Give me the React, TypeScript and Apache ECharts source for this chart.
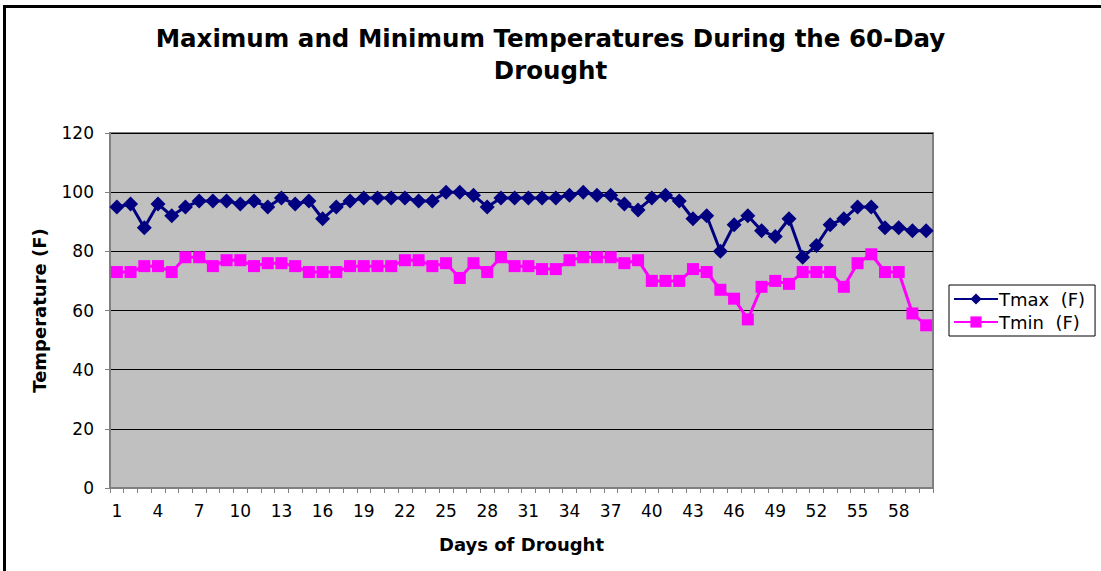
import React, { useEffect, useRef } from "react";
import * as echarts from "echarts";

const days: string[] = Array.from({ length: 60 }, (_, i) => String(i + 1));

const tmax: number[] = [
  95, 96, 88, 96, 92, 95, 97, 97, 97, 96,
  97, 95, 98, 96, 97, 91, 95, 97, 98, 98,
  98, 98, 97, 97, 100, 100, 99, 95, 98, 98,
  98, 98, 98, 99, 100, 99, 99, 96, 94, 98,
  99, 97, 91, 92, 80, 89, 92, 87, 85, 91,
  78, 82, 89, 91, 95, 95, 88, 88, 87, 87,
];

const tmin: number[] = [
  73, 73, 75, 75, 73, 78, 78, 75, 77, 77,
  75, 76, 76, 75, 73, 73, 73, 75, 75, 75,
  75, 77, 77, 75, 76, 71, 76, 73, 78, 75,
  75, 74, 74, 77, 78, 78, 78, 76, 77, 70,
  70, 70, 74, 73, 67, 64, 57, 68, 70, 69,
  73, 73, 73, 68, 76, 79, 73, 73, 59, 55,
];

const titleText = "Maximum and Minimum Temperatures During the 60-Day\nDrought";
const seriesNames = ["Tmax  (F)", "Tmin  (F)"];

export default function App() {
  const ref = useRef<HTMLDivElement>(null);
  useEffect(() => {
    if (!ref.current) return;
    const chart = echarts.init(ref.current, null, { renderer: "svg" });
    const font = "DejaVu Sans, Verdana, sans-serif";
    chart.setOption({
      animation: false,
      backgroundColor: "#ffffff",
      title: {
        text: titleText,
        left: "center",
        top: 17,
        textStyle: {
          fontFamily: font,
          fontSize: 24.5,
          fontWeight: "bold",
          color: "#000",
          lineHeight: 32,
        },
      },
      legend: {
        orient: "vertical",
        left: 949,
        top: 285,
        padding: [5, 10, 5, 4],
        itemGap: 5,
        itemWidth: 44,
        itemHeight: 14,
        borderColor: "#000",
        borderWidth: 1,
        data: seriesNames,
        textStyle: { fontFamily: font, fontSize: 18, color: "#000", padding: [0, 0, 0, -4] },
      },
      graphic: [
        {
          type: "rect",
          shape: { x: 4.5, y: 6.5, width: 1100, height: 700 },
          style: { fill: "none", stroke: "#000", lineWidth: 3 },
          silent: true,
        },
      ],
      grid: {
        left: 110,
        top: 133,
        width: 823,
        height: 355,
        show: true,
        backgroundColor: "#C0C0C0",
        borderColor: "#808080",
        borderWidth: 2,
      },
      xAxis: {
        type: "category",
        data: days,
        boundaryGap: true,
        name: "Days of Drought",
        nameLocation: "middle",
        nameGap: 47,
        nameTextStyle: { fontFamily: font, fontSize: 18, fontWeight: "bold", color: "#000" },
        axisLine: { lineStyle: { color: "#808080", width: 2 } },
        axisTick: { show: true, interval: 0, length: 5, lineStyle: { color: "#808080" } },
        axisLabel: { interval: 2, fontFamily: font, fontSize: 17, color: "#000", margin: 14 },
        splitLine: { show: false },
      },
      yAxis: {
        type: "value",
        min: 0,
        max: 120,
        interval: 20,
        name: "Temperature (F)",
        nameLocation: "middle",
        nameRotate: 90,
        nameGap: 62,
        nameTextStyle: { fontFamily: font, fontSize: 18, fontWeight: "bold", color: "#000" },
        axisLine: { show: true, lineStyle: { color: "#808080", width: 2 } },
        axisTick: { show: true, length: 5, lineStyle: { color: "#808080" } },
        axisLabel: { fontFamily: font, fontSize: 17, color: "#000", margin: 16 },
        splitLine: { show: true, lineStyle: { color: "#000", width: 1 } },
      },
      series: [
        {
          name: seriesNames[0],
          type: "line",
          data: tmax,
          symbol: "diamond",
          symbolSize: 15,
          showSymbol: true,
          showAllSymbol: true,
          lineStyle: { color: "#000080", width: 3 },
          itemStyle: { color: "#000080" },
        },
        {
          name: seriesNames[1],
          type: "line",
          data: tmin,
          symbol: "rect",
          symbolSize: 12,
          showSymbol: true,
          showAllSymbol: true,
          lineStyle: { color: "#FF00FF", width: 3 },
          itemStyle: { color: "#FF00FF" },
        },
      ],
    });
    return () => chart.dispose();
  }, []);
  return (
    <div
      ref={ref}
      style={{ position: "absolute", left: 0, top: 0, width: 1101, height: 571 }}
    />
  );
}
